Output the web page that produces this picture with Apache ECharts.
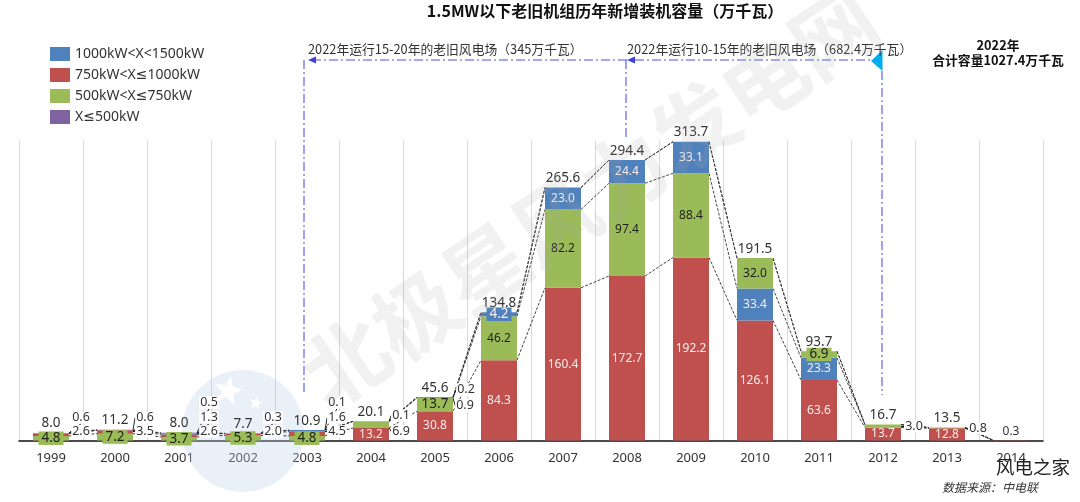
<!DOCTYPE html>
<html><head><meta charset="utf-8">
<style>html,body{margin:0;padding:0;background:#fff}#c{width:1080px;height:502px}</style>
<script src="https://cdn.jsdelivr.net/npm/echarts@6/dist/echarts.min.js"></script>
</head><body><div id="c"></div>
<script>
const years = ['1999','2000','2001','2002','2003','2004','2005','2006','2007','2008','2009','2010','2011','2012','2013','2014'];
const red    = [2.6,3.5,2.6,2.0,4.5,13.2,30.8,84.3,160.4,172.7,192.2,126.1,63.6,13.7,12.8,0.3];
const green  = [4.8,7.2,3.7,5.3,4.8,6.9,13.7,46.2,82.2,97.4,88.4,32.0,6.9,3.0,0.8,0];
const blue   = [0,0,1.3,0,1.6,0,0.9,4.2,23.0,24.4,33.1,33.4,23.3,0,0,0];
const purple = [0.6,0.6,0.5,0.3,0.1,0.1,0.2,0,0,0,0,0,0,0,0,0];
const totals = [8.0,11.2,8.0,7.7,10.9,20.1,45.6,134.8,265.6,294.4,313.7,191.5,93.7,16.7,13.5,0.3];

const names = {b:'1000kW<X<1500kW', r:'750kW<X≤1000kW', g:'500kW<X≤750kW', p:'X≤500kW'};
const colors = {b:'#4f81bd', r:'#c0504d', g:'#9bbb59', p:'#8064a2'};
const FONT = '"Noto Sans","DejaVu Sans","Noto Sans CJK SC",sans-serif';
const CJK = '"Noto Sans CJK SC","Noto Sans",sans-serif';
const GRID = {left:19, top:140.5, width:1024, height:300};
const BASE_Y = GRID.top + GRID.height;
const INK = '#333';

// label callouts: [x offset from bar centre, height above the axis]
const callouts = {
  'r0':[30,9],'p0':[30,23],'r1':[30,9],'p1':[30,23],
  'r2':[30,9],'b2':[30,23],'p2':[30,38],'r3':[30,9],'p3':[30,23],
  'r4':[30,9],'b4':[30,23],'p4':[30,38],
  'g5':[30,9],'p5':[30,25],'b6':[30,35],'p6':[31,51],
  'g13':[31,14],'g14':[31,12]
};
const isEarly = i => i <= 4;
const isSwapped = i => i === 11 || i === 12;
const mask = (arr, test) => arr.map((v, i) => (test(i) && v > 0 ? v : null));

function item(key, v, i) {
  if (v == null) return null;
  if (i === 15) return {value:v, label:{show:false}};
  if (callouts[key + i]) return {value:v, label:{show:true, color:INK, fontSize:12.5, backgroundColor:'#fff', padding:[0,1]}, labelLine:{show:true}};
  const bg = (key === 'g' && (isEarly(i) || i === 6 || i === 12)) || (key === 'b' && i === 7);
  return {value:v, label:{show:true,
    color: key === 'g' ? '#1f1f1f' : '#f6ecec',
    fontSize: (bg && v < 14) ? 13.5 : 12,
    backgroundColor: bg ? colors[key] : 'transparent',
    padding: bg ? [0,3] : 0}};
}
function barSeries(key, arr) {
  return {
    name: names[key], type:'bar', stack:'all', barWidth:36, z:3,
    itemStyle:{color:colors[key]},
    label:{show:false, position:'inside', fontFamily:FONT, formatter:p => Number(p.value).toFixed(1)},
    labelLine:{show:false, lineStyle:{color:'#222', width:1}},
    labelLayout:function(p){
      const c = callouts[key + p.dataIndex];
      if (!c) return {};
      return {x:p.rect.x + p.rect.width/2 + c[0], y:BASE_Y - c[1], align:'center', verticalAlign:'middle'};
    },
    data: arr.map((v,i) => item(key, v, i))
  };
}

// boundaries of each stack, layer by layer, for the connector lines
const layers = years.map((_, i) => {
  const order = isEarly(i) ? [green,red,blue,purple] : isSwapped(i) ? [red,blue,green,purple] : [red,green,blue,purple];
  let s = 0;
  return order.map(a => (s += a[i]));
});
const connectors = [];
for (let k = 0; k < 4; k++) for (let i = 0; i < years.length - 1; i++) connectors.push([i, layers[i][k], layers[i+1][k]]);

const series = [
  barSeries('g', mask(green, isEarly)),
  barSeries('r', mask(red, () => true)),
  barSeries('b', mask(blue, i => isSwapped(i))),
  barSeries('g', mask(green, i => !isEarly(i))),
  barSeries('b', mask(blue, i => !isSwapped(i))),
  barSeries('p', mask(purple, () => true)),
  {type:'custom', z:2, silent:true, clip:false, data:connectors, encode:{x:0,y:[1,2]},
   renderItem:function(params, api){
     const half = 18;
     const a = api.coord([api.value(0), api.value(1)]);
     const b = api.coord([api.value(0) + 1, api.value(2)]);
     return {type:'line', shape:{x1:a[0]+half, y1:a[1], x2:b[0]-half, y2:b[1]},
       style:{stroke:'#333', lineWidth:0.9, lineDash:[3,1.5], fill:null}};
   }},
  {type:'line', z:5, silent:true, symbol:'circle', symbolSize:1, showSymbol:true, showAllSymbol:true,
   itemStyle:{color:'rgba(0,0,0,0)'}, lineStyle:{width:0, opacity:0},
   data:totals.map((v,i) => (i === 15 ? {value:v, label:{fontSize:12}} : v)),
   label:{show:true, position:'top', distance:2, color:INK, fontSize:13.5, fontFamily:FONT, formatter:p => Number(p.value).toFixed(1)}}
];

const bracketV = {stroke:'#8a8aee', lineWidth:1.6, lineDash:[9,3,2,3]};
const bracketH = {stroke:'#5050dc', lineWidth:1.1, lineDash:[9,3,2,3]};
const seg = (x1,y1,x2,y2,style) => ({type:'line', silent:true, z:6, shape:{x1,y1,x2,y2}, style});
const tri = (pts, fill) => ({type:'polygon', silent:true, z:6, shape:{points:pts}, style:{fill}});
const txt = (x,y,text,o) => ({type:'text', silent:true, z:7, x, y, style:Object.assign({text, fill:'#333', font:'12.8px '+CJK, textVerticalAlign:'middle'}, o||{})});
function star(cx, cy, r) {
  const pts = [];
  for (let k = 0; k < 10; k++) {
    const a = -Math.PI/2 + k*Math.PI/5 + 0.2, q = k % 2 ? r*0.42 : r;
    pts.push([cx + q*Math.cos(a), cy + q*Math.sin(a)]);
  }
  return {type:'polygon', silent:true, z:1, shape:{points:pts}, style:{fill:'#fff'}};
}

const watermark = [
  {type:'circle', silent:true, z:1, shape:{cx:243,cy:431,r:61}, style:{fill:'rgba(190,208,232,0.33)'}},
  star(228,391,15), star(256,403,7),
  {type:'text', silent:true, z:8, x:590, y:197, rotation:34*Math.PI/180,
   style:{text:'北极星风力发电网', font:'bold 84px '+CJK, fill:'rgba(165,165,165,0.16)', textAlign:'center', textVerticalAlign:'middle'}}
];

const graphic = watermark.concat([
  seg(304,60,304,395,bracketV),
  seg(626,60,626,140,bracketV),
  seg(882,71,882,395,bracketV),
  seg(312,60,870,60,bracketH),
  tri([[308,60],[316,56.5],[316,63.5]],'#4040d8'),
  tri([[627,60],[635,56.5],[635,63.5]],'#4040d8'),
  tri([[871,61],[882.5,50],[882.5,71]],'#00aeef'),
  txt(308,49,'2022年运行15-20年的老旧风电场（345万千瓦）'),
  txt(627,49,'2022年运行10-15年的老旧风电场（682.4万千瓦）'),
  txt(998,45,'2022年',{font:'bold 12.8px '+CJK, fill:'#111', textAlign:'center'}),
  txt(998,60,'合计容量1027.4万千瓦',{font:'bold 12.8px '+CJK, fill:'#111', textAlign:'center'}),
  txt(996,467,'风电之家',{font:'18.5px '+CJK, fill:'#222'}),
  txt(942,487,'数据来源：中电联',{font:'italic 12px '+CJK, fill:'#333'})
]);

const chart = echarts.init(document.getElementById('c'), null, {renderer:'canvas'});
chart.setOption({
  animation:false,
  backgroundColor:'#fff',
  title:{text:'1.5MW以下老旧机组历年新增装机容量（万千瓦）', left:600, top:-2, textAlign:'center',
    textStyle:{fontFamily:CJK, fontSize:16, fontWeight:'bold', color:'#111'}},
  legend:{orient:'vertical', left:45, top:42, itemWidth:20, itemHeight:14, itemGap:7,
    data:[names.b,names.r,names.g,names.p].map(n => ({name:n, icon:'rect'})),
    textStyle:{fontFamily:FONT, fontSize:14, color:INK}, selectedMode:false},
  grid:GRID,
  xAxis:{type:'category', data:years,
    axisLine:{lineStyle:{color:'#111', width:1.5}}, axisTick:{show:false},
    axisLabel:{color:INK, fontFamily:FONT, fontSize:13, margin:11},
    splitLine:{show:true, interval:0, lineStyle:{color:'#ccd7f2', width:1}}},
  yAxis:{type:'value', min:0, max:315, show:false, splitLine:{show:false}},
  graphic:{elements:graphic},
  series
});
</script></body></html>
